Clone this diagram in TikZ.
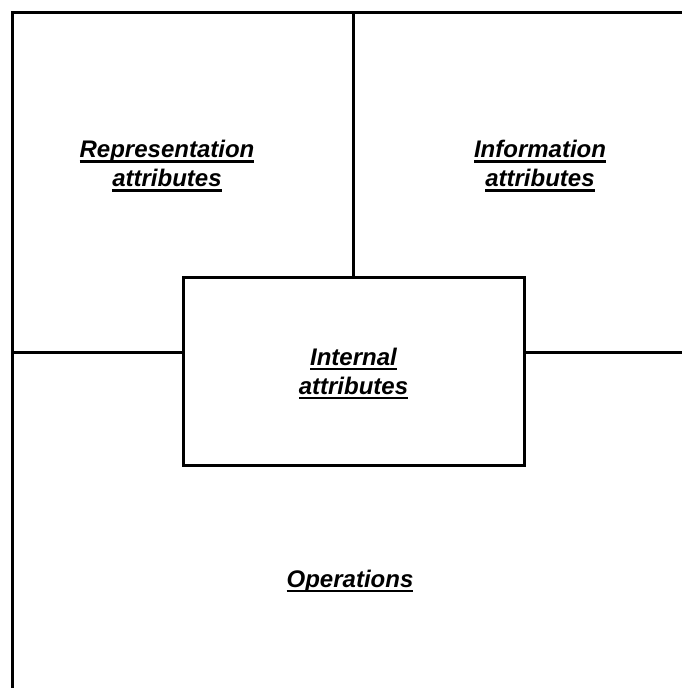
\documentclass[tikz,border=0pt]{standalone}
\usepackage{fontspec}
\setmainfont{Liberation Sans}
\usetikzlibrary{positioning}

% thick underline
\newcommand{\thickul}[1]{\setbox0\hbox{#1}\rlap{\rule[-5pt]{\wd0}{2.4pt}}\box0}

\tikzset{
	part/.style={font=\bfseries\itshape\fontsize{24}{29}\selectfont, align=center},
	edge/.style={line width=3pt}
}

\begin{document}
\begin{tikzpicture}[x=1pt,y=-1pt]
	\useasboundingbox (0,0) rectangle (682,688);
	
	% frame
	\coordinate (corner) at (12,12);
	\coordinate (bottom) at (12,688);
	\coordinate (right) at (682,12);
	\draw [edge] (bottom) -- (corner) -- (right);
	
	% middle box
	\node [draw, edge, minimum width=341pt, minimum height=188pt, inner sep=0pt, part] (internal) at (353.5,371) {\rule{0pt}{22pt}\thickul{Internal}\\\thickul{attributes}};
	
	% dividers
	\coordinate (top) at (353.5,12);
	\coordinate (westend) at (12,352);
	\coordinate (eastend) at (682,352);
	\draw [edge] (top) -- (top |- internal.north);
	\draw [edge] (westend) -- (westend -| internal.west);
	\draw [edge] (eastend) -- (eastend -| internal.east);
	
	\node [part] (repr) at (167,166) {\thickul{Representation}\\\thickul{attributes}};
	\node [part] (info) at (540,166) {\thickul{Information}\\\thickul{attributes}};
	\node [part] (ops) at (350,581) {\thickul{Operations}};
\end{tikzpicture}
\end{document}
